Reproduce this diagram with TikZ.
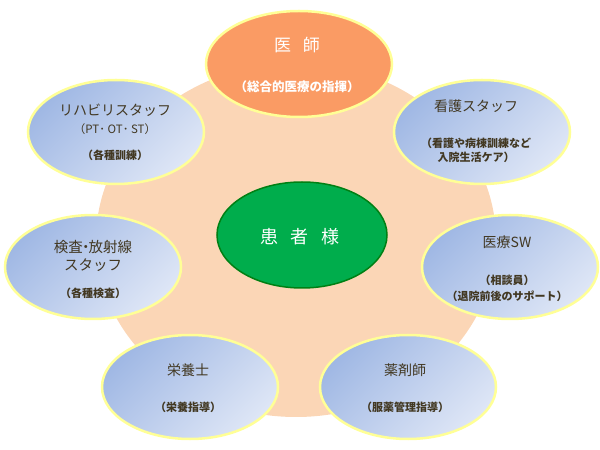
\documentclass[tikz,border=0pt]{standalone}
\usepackage{fontspec}
\setmainfont{Noto Sans CJK JP}
\usetikzlibrary{shapes.geometric}
\definecolor{bgpeach}{RGB}{251,214,182}
\definecolor{bluedark}{RGB}{160,184,228}
\definecolor{bluelight}{RGB}{222,230,246}
\definecolor{rimyellow}{RGB}{255,255,150}
\definecolor{docorange}{RGB}{250,155,100}
\definecolor{patgreen}{RGB}{0,173,76}
\definecolor{patrim}{RGB}{0,128,20}
\definecolor{txtbrown}{RGB}{66,56,34}
\begin{document}
\begin{tikzpicture}[x=1pt,y=1pt,
  staffbox/.style={ellipse, draw=rimyellow, line width=2.5pt, minimum width=176pt, minimum height=104pt, inner sep=0pt, top color=bluedark, bottom color=bluelight, shading angle=45},
  titletxt/.style={text=txtbrown, font=\fontsize{14}{16}\selectfont, inner sep=0pt},
  subtxt/.style={text=txtbrown, font=\fontsize{11}{14}\selectfont\bfseries, inner sep=0pt, align=center},
]
\useasboundingbox (0,0) rectangle (600,450);
% background
\node[ellipse, fill=bgpeach, minimum width=400pt, minimum height=354pt, inner sep=0pt] (bg) at (296,210) {};
% doctor
\node[ellipse, draw=rimyellow, line width=2.5pt, fill=docorange, minimum width=186pt, minimum height=106pt, inner sep=0pt] (doc) at (299,386) {};
\node[text=white, font=\fontsize{17}{19}\selectfont, inner sep=0pt] (doct) at (297,405) {医\hspace{0.7em}師};
\node[text=white, font=\fontsize{12.5}{14}\selectfont\bfseries, inner sep=0pt] (docs) at (297,363) {（総合的医療の指揮）};
% rehab
\node[staffbox] (reh) at (116,318) {};
\node[titletxt] (reht) at (115,340) {リハビリスタッフ};
\node[text=txtbrown, font=\fontsize{11.5}{13}\selectfont, inner sep=0pt] (rehp) at (115,321) {（PT･ OT･ ST）};
\node[subtxt] (rehs) at (115,295) {（各種訓練）};
% nursing
\node[staffbox] (nur) at (482,318) {};
\node[titletxt] (nurt) at (476,344) {看護スタッフ};
\node[subtxt] (nurs) at (476,300) {（看護や病棟訓練など\\入院生活ケア）};
% exam
\node[staffbox] (exa) at (93,183) {};
\node[titletxt, align=center, font=\fontsize{14.5}{18}\selectfont] (exat) at (93,194) {検査\kern-0.3em・\kern-0.3em放射線\\スタッフ};
\node[subtxt] (exas) at (93,157) {（各種検査）};
% SW
\node[staffbox] (msw) at (510,183) {};
\node[titletxt] (mswt) at (507,208) {医療SW};
\node[subtxt, font=\fontsize{11}{16}\selectfont\bfseries] (msws) at (507,162) {（相談員）\\（退院前後のサポート）};
% nutrition
\node[staffbox] (nut) at (190,63) {};
\node[titletxt] (nutt) at (188,80) {栄養士};
\node[subtxt] (nuts) at (188,43) {（栄養指導）};
% pharmacist
\node[staffbox] (pha) at (408,63) {};
\node[titletxt] (phat) at (405,80) {薬剤師};
\node[subtxt] (phas) at (405,43) {（服薬管理指導）};
% patient
\node[ellipse, draw=patrim, line width=1.5pt, fill=patgreen, minimum width=170pt, minimum height=106pt, inner sep=0pt] (pat) at (302,215) {};
\node[text=white, font=\fontsize{18}{20}\selectfont, inner sep=0pt] (patt) at (300,213) {患\hspace{0.7em}者\hspace{0.7em}様};
\end{tikzpicture}
\end{document}
